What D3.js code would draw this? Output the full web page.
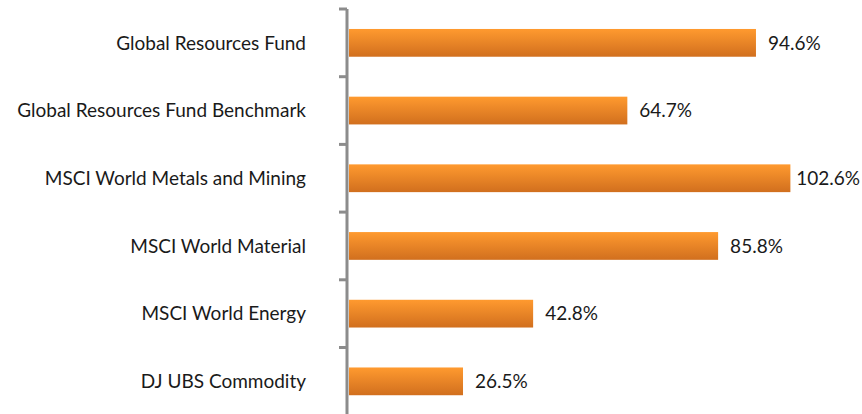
<!DOCTYPE html>
<html><head><meta charset="utf-8">
<script src="https://cdn.jsdelivr.net/npm/d3@7"></script>
<style>
html,body{margin:0;padding:0;background:#fff;}
svg text{font-family:Lato,"Open Sans",sans-serif;fill:#1a1a1a;}
</style></head>
<body><svg id="chart" width="862" height="414"></svg>
<script>
const categories = ["Global Resources Fund","Global Resources Fund Benchmark","MSCI World Metals and Mining","MSCI World Material","MSCI World Energy","DJ UBS Commodity"];
const values = [94.6, 64.7, 102.6, 85.8, 42.8, 26.5];
const valueLabels = ["94.6%","64.7%","102.6%","85.8%","42.8%","26.5%"];

const W = 862;
const svg = d3.select("#chart");
const x0 = 349;
const x = d3.scaleLinear().domain([0, 100]).range([x0, x0 + 430.2]);
const y = d3.scaleBand().domain(categories).range([9, 415.2]).paddingInner(0.59).paddingOuter(0.295);

const defs = svg.append("defs");
const g = defs.append("linearGradient").attr("id","barGrad").attr("x1",0).attr("y1",0).attr("x2",0).attr("y2",1);
g.append("stop").attr("offset","0%").attr("stop-color","#ff9a2f");
g.append("stop").attr("offset","100%").attr("stop-color","#d16f1e");

svg.selectAll("rect.bar").data(values).join("rect")
  .attr("class","bar")
  .attr("x", x(0))
  .attr("y", (d,i)=>y(categories[i]))
  .attr("width", d=>x(d)-x(0))
  .attr("height", y.bandwidth())
  .attr("fill","url(#barGrad)");

// axis
const axisG = svg.append("g");
axisG.append("line").attr("x1",347).attr("x2",347).attr("y1",9).attr("y2",420)
  .attr("stroke","#8c8c8c").attr("stroke-width",3);
const tickYs = categories.map(c => y(c) - y.step()*y.paddingInner()/2);
axisG.selectAll("line.tick").data(tickYs).join("line").attr("class","tick")
  .attr("x1",339).attr("x2",347).attr("y1",d=>d).attr("y2",d=>d)
  .attr("stroke","#8c8c8c").attr("stroke-width",3);

svg.selectAll("text.cat").data(categories).join("text")
  .attr("class","cat")
  .attr("x", 306)
  .attr("y", d=>y(d)+y.bandwidth()/2)
  .attr("dy","0.35em")
  .attr("text-anchor","end")
  .attr("font-size","19px")
  .text(d=>d);

svg.selectAll("text.val").data(values).join("text")
  .attr("class","val")
  .attr("x", d=>x(d)+12)
  .attr("y", (d,i)=>y(categories[i])+y.bandwidth()/2)
  .attr("dy","0.35em")
  .attr("font-size","19px")
  .text((d,i)=>valueLabels[i])
  .each(function(d){
    const w = this.getComputedTextLength();
    const xx = Math.min(x(d)+12, W - 2 - w);
    d3.select(this).attr("x", xx);
  });
</script></body></html>
